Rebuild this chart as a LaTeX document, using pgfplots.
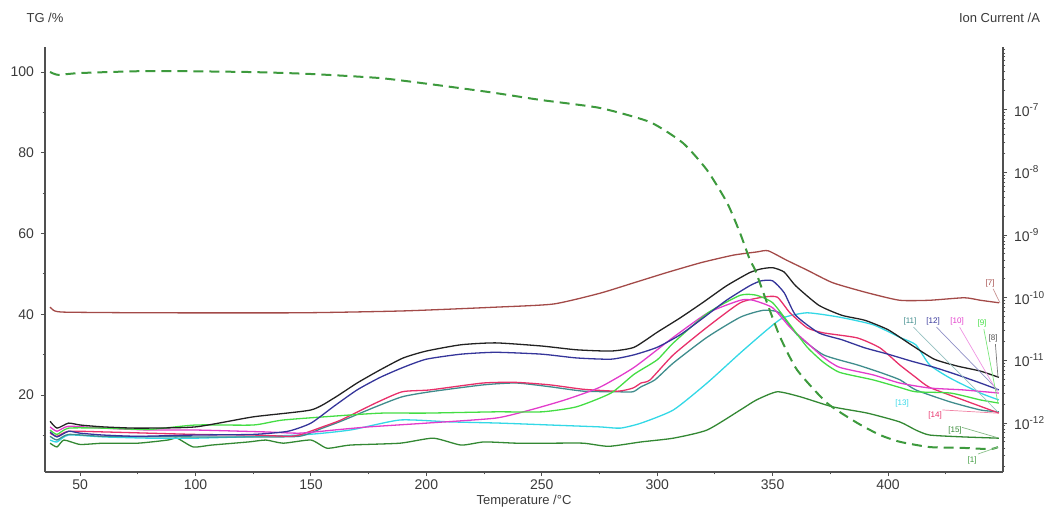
\documentclass[border=0pt]{standalone}
\usepackage{fontspec}
\setmainfont{Liberation Sans}
\usepackage{pgfplots}
\pgfplotsset{compat=1.18}
\definecolor{txt}{HTML}{3A3A3A}
\definecolor{axc}{HTML}{505050}
\definecolor{c7}{HTML}{A34A48}
\definecolor{c8}{HTML}{222222}
\definecolor{c12}{HTML}{35359A}
\definecolor{c10}{HTML}{E23CCB}
\definecolor{c9}{HTML}{44DD44}
\definecolor{c14}{HTML}{E8306A}
\definecolor{c11}{HTML}{3F8C8C}
\definecolor{c13}{HTML}{33D8E6}
\definecolor{c15}{HTML}{338833}
\definecolor{c1}{HTML}{3D9A3D}

\pgfplotsset{
  common/.style={
    scale only axis, width=479pt, height=212.5pt,
    at={(0,0)}, anchor=south west,
    xmin=34.8, xmax=449.8,
    tick align=outside,
    major tick length=2pt, minor tick length=1.2pt,
    every tick/.style={axc, line width=0.5pt},
    axis line style={axc, line width=0.7pt},
    tick label style={font=\fontsize{7}{8}\selectfont, text=txt},
    xticklabel style={yshift=1.8pt},
    /pgf/number format/assume math mode=true,
  },
  ion/.style={line width=0.65pt, smooth, tension=0.35},
}

\begin{document}
\begin{tikzpicture}
\useasboundingbox (-22.5pt,-18.5pt) rectangle (503.5pt,236pt);

% ion currents (right axis, log)
\begin{axis}[common,
  ymode=log, ymin=1.66e-13, ymax=1e-6,
  axis x line=none, axis y line*=right,
  ytick={1e-12,1e-11,1e-10,1e-9,1e-8,1e-7},
  yticklabels={10\textsuperscript{-12},10\textsuperscript{-11},10\textsuperscript{-10},10\textsuperscript{-9},10\textsuperscript{-8},10\textsuperscript{-7}},
  minor ytick={2e-13,3e-13,4e-13,5e-13,6e-13,7e-13,8e-13,9e-13,
    2e-12,3e-12,4e-12,5e-12,6e-12,7e-12,8e-12,9e-12,
    2e-11,3e-11,4e-11,5e-11,6e-11,7e-11,8e-11,9e-11,
    2e-10,3e-10,4e-10,5e-10,6e-10,7e-10,8e-10,9e-10,
    2e-9,3e-9,4e-9,5e-9,6e-9,7e-9,8e-9,9e-9,
    2e-8,3e-8,4e-8,5e-8,6e-8,7e-8,8e-8,9e-8,
    2e-7,3e-7,4e-7,5e-7,6e-7,7e-7,8e-7,9e-7},
]
% [15] dark green
\addplot[ion,c15] table[x=T,y expr=10^(\thisrow{L})] {
T L
37 -12.32
40 -12.38
43 -12.27
50 -12.34
60 -12.32
75 -12.32
88 -12.27
92 -12.24
99 -12.38
107 -12.35
123 -12.30
130.5 -12.27
138 -12.32
150 -12.27
157 -12.40
167 -12.35
188.6 -12.32
203 -12.24
215 -12.35
225 -12.30
239 -12.32
253.6 -12.32
268 -12.32
279 -12.37
293 -12.30
307 -12.24
321.6 -12.11
336 -11.79
343 -11.63
352 -11.50
362 -11.58
376 -11.74
391 -11.84
405 -11.98
412 -12.11
418 -12.19
432.5 -12.22
448 -12.24
};
% [13] cyan
\addplot[ion,c13] table[x=T,y expr=10^(\thisrow{L})] {
T L
37 -12.27
40 -12.30
45 -12.19
60 -12.22
80 -12.24
100 -12.24
145 -12.19
167 -12.11
188.6 -11.95
210 -11.98
232 -12.00
253.6 -12.03
275 -12.06
284 -12.08
293 -12.00
307 -11.79
321.6 -11.36
336 -10.88
347.6 -10.51
354.5 -10.32
364.9 -10.24
379 -10.31
393.5 -10.43
405 -10.63
412 -10.75
418 -11.07
426.8 -11.28
440 -11.52
448 -11.63
};
% [11] teal
\addplot[ion,c11] table[x=T,y expr=10^(\thisrow{L})] {
T L
37 -12.21
40 -12.27
45 -12.18
60 -12.21
100 -12.22
125 -12.22
145 -12.21
155 -12.08
163 -11.97
178 -11.74
189.5 -11.58
201.6 -11.50
224.6 -11.39
239 -11.36
253.6 -11.42
268 -11.49
283 -11.50
289.5 -11.50
293 -11.42
299 -11.31
307 -11.04
321.6 -10.63
336 -10.31
346 -10.20
353 -10.24
360.6 -10.59
372 -10.91
386.6 -11.07
396.5 -11.19
405.2 -11.31
412 -11.47
426.8 -11.66
440 -11.79
448 -11.82
};
% [14] crimson
\addplot[ion,c14] table[x=T,y expr=10^(\thisrow{L})] {
T L
37 -12.16
40 -12.21
45 -12.13
60 -12.14
100 -12.18
125 -12.19
140 -12.21
145 -12.19
155 -12.06
163 -11.95
178 -11.68
189.5 -11.50
201.6 -11.47
224.6 -11.36
239 -11.35
253.6 -11.39
268 -11.46
283 -11.49
289.5 -11.44
293 -11.36
296.9 -11.31
307 -10.91
321.6 -10.47
336 -10.08
346 -9.99
352 -9.99
357.5 -10.24
365 -10.48
372 -10.56
386.6 -10.64
396.5 -10.80
405 -11.07
412 -11.27
418 -11.43
432.5 -11.63
448 -11.84
};
% [10] magenta
\addplot[ion,c10] table[x=T,y expr=10^(\thisrow{L})] {
T L
37 -12.06
40 -12.13
45 -12.05
60 -12.08
80 -12.11
100 -12.11
130 -12.14
145 -12.16
160 -12.11
175 -12.06
200 -12.00
230 -11.92
245 -11.79
260 -11.63
275 -11.43
290 -11.11
307 -10.63
322 -10.24
336 -10.04
341.5 -10.04
350 -10.16
357.5 -10.47
365 -10.72
372 -10.95
379 -11.11
393.5 -11.23
405 -11.36
418 -11.44
432.5 -11.47
448 -11.52
};
% [9] light green
\addplot[ion,c9] table[x=T,y expr=10^(\thisrow{L})] {
T L
37 -12.11
40 -12.18
45 -12.08
60 -12.08
80 -12.10
100 -12.03
125 -12.03
138 -11.95
167 -11.87
181 -11.84
200 -11.84
230 -11.82
250 -11.82
265 -11.74
280 -11.52
290 -11.22
300 -10.99
307 -10.72
322 -10.24
336 -9.96
343 -9.96
350 -10.08
357.5 -10.43
365 -10.79
372 -11.03
379 -11.19
393.5 -11.31
405 -11.43
412 -11.50
427 -11.52
440 -11.63
448 -11.68
};
% [12] navy
\addplot[ion,c12] table[x=T,y expr=10^(\thisrow{L})] {
T L
37 -12.14
40 -12.22
45 -12.13
50 -12.16
60 -12.19
75 -12.21
100 -12.19
125 -12.18
140 -12.13
150 -12.00
160 -11.73
170 -11.47
180 -11.27
190 -11.11
200 -10.98
215 -10.90
230 -10.87
250 -10.90
265 -10.96
280 -10.98
290 -10.91
300 -10.79
310 -10.59
320 -10.32
330 -10.04
340 -9.81
345 -9.73
350 -9.73
355 -9.92
360 -10.28
370 -10.56
380 -10.67
390 -10.80
400 -10.90
410 -11.01
420 -11.11
430 -11.23
440 -11.36
448 -11.47
};
% [8] black
\addplot[ion,c8] table[x=T,y expr=10^(\thisrow{L})] {
T L
37 -11.97
40 -12.08
45 -12.00
50 -12.03
60 -12.06
75 -12.08
100 -12.06
125 -11.90
150 -11.79
160 -11.60
170 -11.36
180 -11.15
190 -10.96
200 -10.85
215 -10.75
230 -10.72
250 -10.77
265 -10.83
280 -10.85
290 -10.79
300 -10.55
310 -10.32
320 -10.07
330 -9.81
340 -9.60
345 -9.54
350 -9.52
355 -9.59
360 -9.81
370 -10.12
380 -10.28
390 -10.36
400 -10.51
410 -10.75
420 -10.98
430 -11.09
440 -11.17
448 -11.27
};
% [7] brown
\addplot[ion,c7] table[x=T,y expr=10^(\thisrow{L})] {
T L
37 -10.15
39 -10.21
44 -10.23
80 -10.24
145 -10.24
190 -10.21
230 -10.15
255 -10.10
275 -9.93
290 -9.76
304 -9.60
319 -9.44
333 -9.32
343 -9.27
348 -9.25
356 -9.40
365 -9.56
376 -9.76
391 -9.92
405 -10.04
418 -10.04
433 -10.00
440 -10.04
448 -10.08
};
\end{axis}

% TG (left axis)
\begin{axis}[common,
  ymin=0.93, ymax=106.2,
  axis x line*=bottom, axis y line*=left,
  xtick={50,100,...,400}, minor xtick={75,125,...,425},
  ytick={20,40,...,100}, minor ytick={10,30,...,90},
  clip=false,
]
\addplot[c1, line width=1pt, dash pattern=on 5pt off 3pt, smooth, tension=0.35] table {
T TG
37 100.0
40.5 99.3
50 99.75
80.3 100.25
123.6 100.0
150.5 99.5
180 98.5
201.6 97.0
227.6 95.0
249.3 93.1
275.2 91.1
296.9 87.6
311.2 82.4
321.6 75.7
330.3 67.6
335.9 60.1
340.2 53.4
342.4 51.0
347.6 42.8
353.2 34.4
360.6 26.2
373.6 18.0
386.6 13.1
396.5 10.1
405.2 8.4
418.2 7.1
432.5 6.9
444.2 6.6
447.6 7.1
};
% leader lines and curve labels
\begin{scope}[line width=0.35pt]
\draw[c7!60] (axis cs:445.5,46.3) -- (axis cs:448.5,42.8);
\draw[c11!55] (axis cs:411,36.8) -- (axis cs:447.6,15.8);
\draw[c12!55] (axis cs:421,36.8) -- (axis cs:447.6,21.2);
\draw[c10!55] (axis cs:431,36.8) -- (axis cs:447.6,20.5);
\draw[c9!70] (axis cs:441.5,36.3) -- (axis cs:447.6,18.0);
\draw[c8!60] (axis cs:446.5,32.6) -- (axis cs:447.6,24.5);
\draw[c14!60] (axis cs:423.5,16.3) -- (axis cs:447.6,15.5);
\draw[c15!60] (axis cs:432,12.0) -- (axis cs:447.6,9.4);
\draw[c1!60] (axis cs:439,5.4) -- (axis cs:447.6,7.1);
\end{scope}
\begin{scope}[every node/.style={font=\fontsize{4}{4}\selectfont, inner sep=0.5pt}]
\node[c7] at (axis cs:444.2,47.7) {[7]};
\node[c11] at (axis cs:409.5,38.3) {[11]};
\node[c12] at (axis cs:419.5,38.3) {[12]};
\node[c10] at (axis cs:429.9,38.3) {[10]};
\node[c9] at (axis cs:440.7,37.8) {[9]};
\node[c8!80] at (axis cs:445.5,34.1) {[8]};
\node[c13] at (axis cs:406.1,18.0) {[13]};
\node[c14] at (axis cs:420.4,15.0) {[14]};
\node[c15] at (axis cs:429.0,11.3) {[15]};
\node[c1] at (axis cs:436.4,3.9) {[1]};
\end{scope}
\node[font=\fontsize{6.5}{7}\selectfont, text=txt] at ([yshift=14.5pt]rel axis cs:0,1) {TG /\%};
\node[font=\fontsize{6.5}{7}\selectfont, text=txt, anchor=east] at ([xshift=22pt,yshift=14.5pt]rel axis cs:1,1) {Ion Current /A};
\node[font=\fontsize{6.5}{7}\selectfont, text=txt] at ([yshift=-14.8pt]rel axis cs:0.5,0) {Temperature /°C};
\end{axis}
\end{tikzpicture}
\end{document}
